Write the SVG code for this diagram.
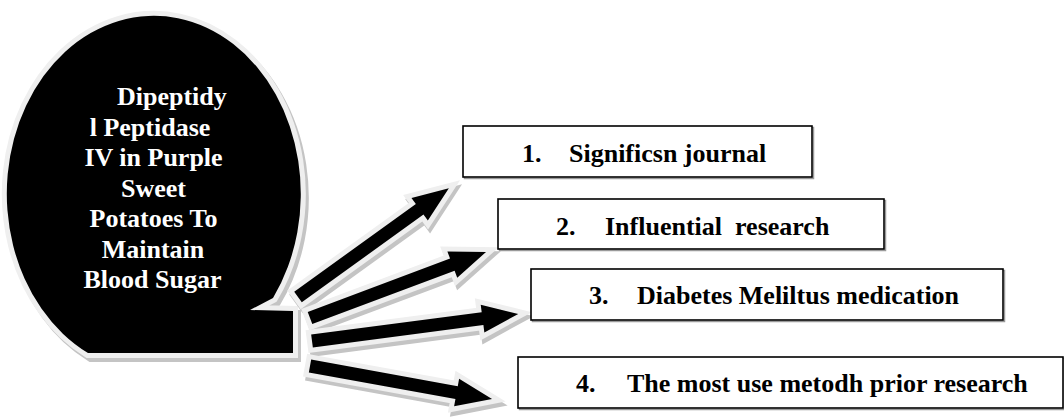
<svg xmlns="http://www.w3.org/2000/svg" xmlns:xlink="http://www.w3.org/1999/xlink" width="1064" height="419" viewBox="0 0 1064 419">
<style>
.sh{fill:#c4c4c4;stroke:#c4c4c4;stroke-width:10;stroke-linejoin:miter}
.rim{fill:#000;stroke:#efefef;stroke-width:10;paint-order:stroke;stroke-linejoin:miter}
.box{fill:#fff;stroke:#000;stroke-width:1.6}
.boxsh{fill:none;stroke:#9a9a9a;stroke-width:1.5}
.lbl{font-family:"Liberation Serif","Times New Roman",serif;font-weight:bold;font-size:26px;fill:#000;white-space:pre}
.ctr{font-family:"Liberation Serif","Times New Roman",serif;font-weight:bold;font-size:26px;fill:#fff;text-anchor:middle}
</style>
<defs>
<path id="bubble" d="M250,310 L293,311 L293,353 L88,353 A147,178 0 1 1 273,298 Z"/>
<path id="a1" transform="translate(298,297) rotate(-35.8)" d="M0,-6.5 H150 V-14 L186,0 L150,14 V6.5 H0 Z"/>
<path id="a2" transform="translate(310,318) rotate(-20.56)" d="M0,-6.5 H152 V-14 L188,0 L152,14 V6.5 H0 Z"/>
<path id="a3" transform="translate(312,341) rotate(-7.47)" d="M0,-6.5 H172 V-14 L208,0 L172,14 V6.5 H0 Z"/>
<path id="a4" transform="translate(310,366) rotate(10.28)" d="M0,-6.5 H149 V-14 L185,0 L149,14 V6.5 H0 Z"/>
</defs>
<rect width="1064" height="419" fill="#fff"/>

<g id="topic">
<use xlink:href="#bubble" class="sh" transform="translate(3,4)"/>
<use xlink:href="#bubble" class="rim"/>
<text class="ctr" x="117" y="105" style="text-anchor:start">Dipeptidy</text>
<text class="ctr" x="150" y="135.5">l Peptidase</text>
<text class="ctr" x="153.5" y="166">IV in Purple</text>
<text class="ctr" x="153.5" y="196.5">Sweet</text>
<text class="ctr" x="153.5" y="227">Potatoes To</text>
<text class="ctr" x="153" y="257.5">Maintain</text>
<text class="ctr" x="152.5" y="288">Blood Sugar</text>
</g>

<g id="connectors">
<use xlink:href="#a1" class="sh" transform="translate(2,4)"/>
<use xlink:href="#a1" class="rim"/>
<use xlink:href="#a2" class="sh" transform="translate(2,4)"/>
<use xlink:href="#a2" class="rim"/>
<use xlink:href="#a3" class="sh" transform="translate(2,4)"/>
<use xlink:href="#a3" class="rim"/>
<use xlink:href="#a4" class="sh" transform="translate(2,4)"/>
<use xlink:href="#a4" class="rim"/>
</g>

<g id="item1">
<rect class="boxsh" x="464.5" y="127.5" width="349" height="51"/>
<rect class="box" x="463" y="126" width="349" height="51"/>
<text class="lbl" y="162"><tspan x="522">1.</tspan><tspan x="569">Significsn journal</tspan></text>
</g>
<g id="item2">
<rect class="boxsh" x="499.5" y="200.5" width="386" height="50"/>
<rect class="box" x="498" y="199" width="386" height="50"/>
<text class="lbl" y="235"><tspan x="556">2.</tspan><tspan x="605">Influential  research</tspan></text>
</g>
<g id="item3">
<rect class="boxsh" x="532.5" y="270.5" width="472" height="51"/>
<rect class="box" x="531" y="269" width="472" height="51"/>
<text class="lbl" y="304"><tspan x="589">3.</tspan><tspan x="637">Diabetes Meliltus medication</tspan></text>
</g>
<g id="item4">
<rect class="boxsh" x="519.5" y="358.5" width="545" height="51"/>
<rect class="box" x="518" y="357" width="545" height="51"/>
<text class="lbl" y="392"><tspan x="576">4.</tspan><tspan x="627">The most use metodh prior research</tspan></text>
</g>
</svg>
